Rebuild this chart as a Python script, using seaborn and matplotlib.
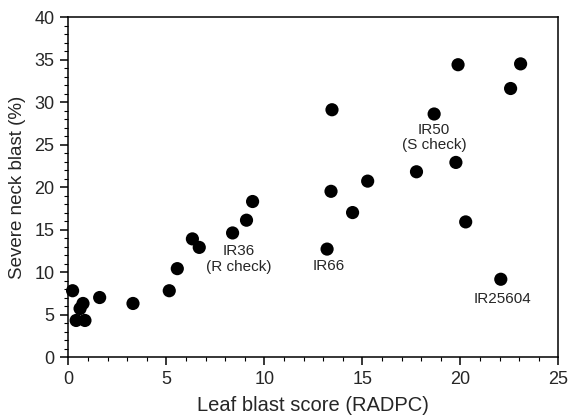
import matplotlib
matplotlib.use("Agg")
import matplotlib.pyplot as plt
from matplotlib.ticker import MultipleLocator
import seaborn as sns
import pandas as pd

# leaf blast score (RADPC) vs severe neck blast (%)
leaf_blast = [0.22, 0.4, 0.85, 0.6, 0.75, 1.6, 3.3, 5.15, 5.56, 6.33, 6.68,
              8.38, 9.09, 9.4, 13.2, 13.45, 13.4, 14.5, 15.27, 17.76, 18.66,
              19.77, 19.88, 20.27, 22.06, 22.56, 23.07]
neck_blast = [7.8, 4.3, 4.3, 5.7, 6.3, 7.0, 6.3, 7.8, 10.4, 13.9, 12.9,
              14.6, 16.1, 18.3, 12.7, 29.1, 19.5, 17.0, 20.7, 21.8, 28.6,
              22.9, 34.4, 15.9, 9.15, 31.6, 34.5]

labels = ["IR36\n(R check)", "IR50\n(S check)", "IR66", "IR25604"]
label_x = [8.69, 18.66, 13.28, 22.17]
label_y = [11.5, 25.85, 10.76, 6.8]

df = pd.DataFrame({"leaf": leaf_blast, "neck": neck_blast})

sns.set_style("ticks")
plt.rcParams["font.family"] = ["Liberation Sans", "DejaVu Sans"]

fig = plt.figure(figsize=(5.71, 4.2), dpi=100)
ax = fig.add_axes([0.1196, 0.15, 0.8584, 0.8092])

sns.scatterplot(data=df, x="leaf", y="neck", color="black", s=90,
                edgecolor="none", ax=ax, clip_on=False, zorder=3)

for txt, x, y in zip(labels, label_x, label_y):
    ax.text(x, y, txt, ha="center", va="center", fontsize=11,
            linespacing=1.15)

ax.set_xlim(0, 25)
ax.set_ylim(0, 40)
ax.xaxis.set_major_locator(MultipleLocator(5))
ax.xaxis.set_minor_locator(MultipleLocator(1))
ax.yaxis.set_major_locator(MultipleLocator(5))
ax.yaxis.set_minor_locator(MultipleLocator(1))
ax.tick_params(which="major", length=6, width=1.1, labelsize=13, color="black", pad=4)
ax.tick_params(which="minor", length=3, width=0.8, color="black")
for sp in ax.spines.values():
    sp.set_visible(True)
    sp.set_linewidth(1.1)
    sp.set_color("black")

ax.set_xlabel("Leaf blast score (RADPC)", fontsize=14.5, labelpad=6)
ax.set_ylabel("Severe neck blast (%)", fontsize=13.5, labelpad=6)

fig.savefig("out.png", dpi=100)
